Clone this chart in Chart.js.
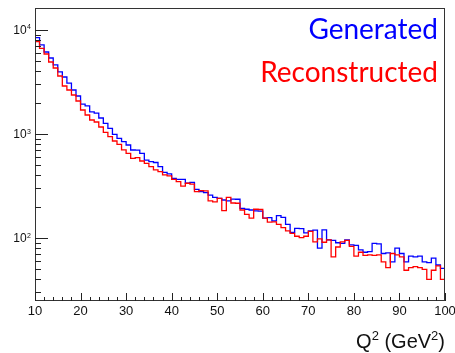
<!DOCTYPE html>
<html>
<head>
<meta charset="utf-8">
<script src="https://cdn.jsdelivr.net/npm/chart.js@4/dist/chart.umd.min.js"></script>
<style>
  html, body { margin: 0; padding: 0; background: #fff; }
  canvas { display: block; }
</style>
</head>
<body>
<canvas id="q2" width="455" height="353"></canvas>
<script>
// Q^2 distribution: generated vs reconstructed, 1 GeV^2 bins from 10 to 100

// lower bin edges (GeV^2)
const lowEdges = [
  10, 11, 12, 13, 14, 15, 16, 17, 18, 19,
  20, 21, 22, 23, 24, 25, 26, 27, 28, 29,
  30, 31, 32, 33, 34, 35, 36, 37, 38, 39,
  40, 41, 42, 43, 44, 45, 46, 47, 48, 49,
  50, 51, 52, 53, 54, 55, 56, 57, 58, 59,
  60, 61, 62, 63, 64, 65, 66, 67, 68, 69,
  70, 71, 72, 73, 74, 75, 76, 77, 78, 79,
  80, 81, 82, 83, 84, 85, 86, 87, 88, 89,
  90, 91, 92, 93, 94, 95, 96, 97, 98, 99
];
const upperEdge = 100;

// entries per bin
const generated = [
  8430, 7180, 6140, 5380, 4610, 3950, 3530, 3090, 2650, 2320,
  1940, 1860, 1630, 1590, 1425, 1267, 1134, 993, 909, 843,
  784, 702, 700, 652, 562, 542, 532, 485, 428, 413,
  375, 367, 366, 336, 343, 294, 279, 273, 259, 246,
  241, 232, 228, 237, 236, 193, 189, 186, 182, 181,
  155, 157, 146, 164, 158, 135, 113, 124, 123, 112,
  117, 119, 80, 120, 96, 95, 90, 89, 96, 86,
  85, 77, 73, 74, 89, 88, 71, 72, 59, 80,
  71, 59, 67, 66, 67, 59, 58, 64, 55, 51
];
const reconstructed = [
  7720, 6670, 5880, 4925, 4310, 3612, 2894, 2650, 2371, 2077,
  1701, 1523, 1363, 1305, 1168, 1038, 942, 856, 796, 703,
  650, 584, 592, 550, 523, 485, 451, 434, 404, 395,
  366, 348, 316, 336, 330, 279, 285, 284, 228, 223,
  241, 183, 246, 217, 216, 186, 169, 155, 189, 188,
  155, 142, 143, 135, 126, 117, 111, 104, 101, 104,
  116, 92, 98, 91, 96, 66, 82, 92, 95, 83,
  67, 73, 68, 69, 68, 69, 59, 52, 71, 69,
  66, 49, 52, 53, 52, 50, 40, 49, 54, 40
];

// axis decoration
const xMajorTicks = [10, 20, 30, 40, 50, 60, 70, 80, 90, 100];
const xMinorTicks = [12, 14, 16, 18, 22, 24, 26, 28, 32, 34, 36, 38, 42, 44, 46, 48,
  52, 54, 56, 58, 62, 64, 66, 68, 72, 74, 76, 78, 82, 84, 86, 88, 92, 94, 96, 98];
const yDecades = [100, 1000, 10000];
const yDecadeExp = ['2', '3', '4'];
const yMinorTicks = [30, 40, 50, 60, 70, 80, 90,
  200, 300, 400, 500, 600, 700, 800, 900,
  2000, 3000, 4000, 5000, 6000, 7000, 8000, 9000];
const yRange = [24.8, 16270];

// histogram -> step line points (last bin closed at the upper edge)
function toSteps(values) {
  const pts = lowEdges.map((x, i) => ({ x: x, y: values[i] }));
  pts.push({ x: upperEdge, y: values[values.length - 1] });
  return pts;
}

// frame, inward ticks, labels and legend text drawn ROOT-like
const rootStyle = {
  id: 'rootStyle',
  afterDatasetsDraw(chart) {
    const { ctx, chartArea: a, scales: { x, y } } = chart;
    ctx.save();

    // frame
    ctx.strokeStyle = '#333';
    ctx.lineWidth = 1;
    ctx.strokeRect(a.left + 0.5, a.top + 0.5, a.right - a.left - 1, a.bottom - a.top - 1);

    // x ticks (pointing up into the pad)
    ctx.strokeStyle = '#222';
    ctx.beginPath();
    xMajorTicks.forEach(v => {
      const px = Math.round(x.getPixelForValue(v)) + 0.5;
      ctx.moveTo(px, a.bottom); ctx.lineTo(px, a.bottom - 8);
    });
    xMinorTicks.forEach(v => {
      const px = Math.round(x.getPixelForValue(v)) + 0.5;
      ctx.moveTo(px, a.bottom); ctx.lineTo(px, a.bottom - 4);
    });
    // y ticks (pointing right into the pad)
    yDecades.forEach(v => {
      const py = Math.round(y.getPixelForValue(v)) + 0.5;
      ctx.moveTo(a.left, py); ctx.lineTo(a.left + 13, py);
    });
    yMinorTicks.forEach(v => {
      const py = Math.round(y.getPixelForValue(v)) + 0.5;
      ctx.moveTo(a.left, py); ctx.lineTo(a.left + 6, py);
    });
    ctx.stroke();

    // x tick labels
    ctx.fillStyle = '#111';
    ctx.font = '13px "Liberation Sans", Arial, sans-serif';
    ctx.textAlign = 'center';
    ctx.textBaseline = 'middle';
    xMajorTicks.forEach(v => {
      ctx.fillText(String(v), x.getPixelForValue(v), a.bottom + 10);
    });

    // y tick labels: 10 with a small exponent
    yDecades.forEach((v, i) => {
      const py = y.getPixelForValue(v);
      ctx.font = '7px "Liberation Sans", Arial, sans-serif';
      const we = ctx.measureText(yDecadeExp[i]).width;
      ctx.font = '12px "Liberation Sans", Arial, sans-serif';
      const wb = ctx.measureText('10').width;
      const x0 = 30.5 - we - wb;
      ctx.textAlign = 'left';
      ctx.textBaseline = 'middle';
      ctx.fillText('10', x0, py + 1);
      ctx.font = '7px "Liberation Sans", Arial, sans-serif';
      ctx.textBaseline = 'alphabetic';
      ctx.fillText(yDecadeExp[i], x0 + wb + 0.5, py - 0.5);
    });

    // x axis title: Q^2 (GeV^2), right aligned with the pad
    const big = '20px "Liberation Sans", Arial, sans-serif';
    const sup = '13px "Liberation Sans", Arial, sans-serif';
    const parts = [['Q', big, 0], ['2', sup, -8], [' (GeV', big, 0], ['2', sup, -8], [')', big, 0]];
    let total = 0;
    parts.forEach(p => { ctx.font = p[1]; total += ctx.measureText(p[0]).width; });
    let cx = a.right - total;
    ctx.textAlign = 'left';
    ctx.textBaseline = 'alphabetic';
    parts.forEach(p => {
      ctx.font = p[1];
      ctx.fillText(p[0], cx, 348 + p[2]);
      cx += ctx.measureText(p[0]).width;
    });

    // legend text
    ctx.textAlign = 'right';
    ctx.font = '28px Lato, "Open Sans", sans-serif';
    ctx.fillStyle = '#0000ff';
    ctx.fillText('Generated', 438, 38.5);
    ctx.fillStyle = '#ff0000';
    ctx.fillText('Reconstructed', 438, 81.5);

    ctx.restore();
  }
};

new Chart(document.getElementById('q2'), {
  type: 'line',
  data: {
    datasets: [
      {
        label: 'Reconstructed',
        data: toSteps(reconstructed),
        borderColor: '#ff0000',
        borderWidth: 1.3,
        stepped: true,
        pointRadius: 0,
        fill: false,
        order: 0
      },
      {
        label: 'Generated',
        data: toSteps(generated),
        borderColor: '#0000ff',
        borderWidth: 1.3,
        stepped: true,
        pointRadius: 0,
        fill: false,
        order: 1
      }
    ]
  },
  options: {
    responsive: false,
    animation: false,
    devicePixelRatio: 1,
    layout: { padding: { top: 8, right: 10, left: 0, bottom: 0 } },
    plugins: { legend: { display: false }, tooltip: { enabled: false } },
    scales: {
      x: {
        type: 'linear',
        min: 10,
        max: 100,
        grid: { display: false },
        border: { display: false },
        ticks: { display: false },
        afterFit(scale) { scale.height = 52; }
      },
      y: {
        type: 'logarithmic',
        min: yRange[0],
        max: yRange[1],
        grid: { display: false },
        border: { display: false },
        ticks: { display: false },
        afterFit(scale) { scale.width = 35; }
      }
    }
  },
  plugins: [rootStyle]
});
</script>
</body>
</html>
